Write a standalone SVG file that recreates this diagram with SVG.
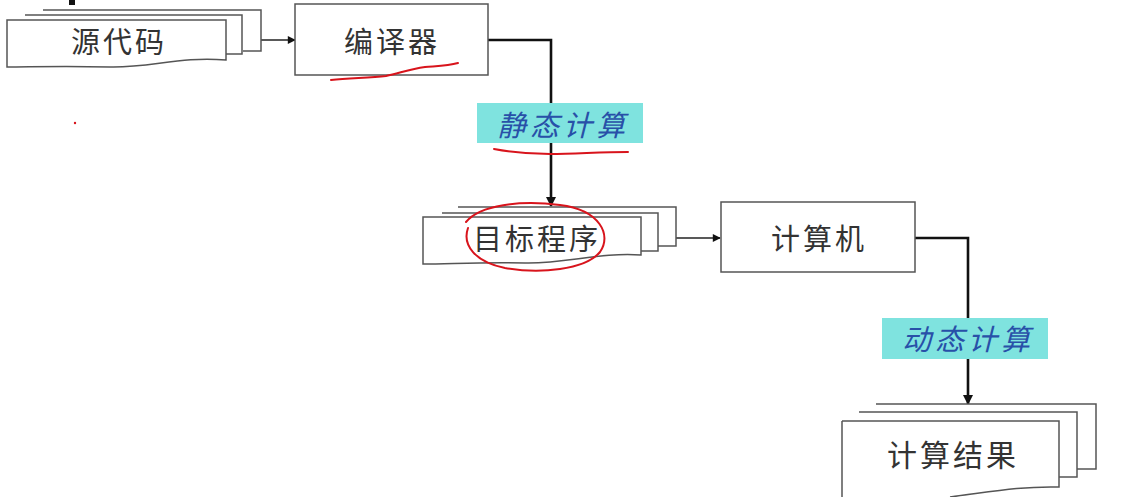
<svg xmlns="http://www.w3.org/2000/svg" width="1135" height="497" viewBox="0 0 1135 497">
<defs>
<style>
.box{fill:#fff;stroke:#555;stroke-width:1.5}
.doc{fill:#fff;stroke:#555;stroke-width:1.5}
.t{font-family:"Noto Sans CJK SC","Liberation Serif",serif;font-size:29px;letter-spacing:3px;fill:#333;text-anchor:middle}
.lbl{fill:#7fe3df}
.lt{font-family:"Noto Sans CJK SC",sans-serif;font-size:29px;letter-spacing:4px;font-style:italic;fill:#2850a8;text-anchor:middle}
.thin{fill:none;stroke:#222;stroke-width:1.3}
.thick{fill:none;stroke:#111;stroke-width:2.6}
.red{fill:none;stroke:#d8141c;stroke-width:2;stroke-linecap:round;stroke-linejoin:round}
</style>
<marker id="ah" viewBox="0 0 10 10" refX="9" refY="5" markerWidth="10" markerHeight="8" markerUnits="userSpaceOnUse" orient="auto">
<path d="M0,0 L10,5 L0,10 z" fill="#111"/>
</marker>
<marker id="ah2" viewBox="0 0 10 10" refX="9" refY="5" markerWidth="12" markerHeight="10" markerUnits="userSpaceOnUse" orient="auto">
<path d="M0,0 L10,5 L0,10 z" fill="#111"/>
</marker>
</defs>
<rect width="1135" height="497" fill="#fff"/>
<rect x="69" y="0" width="6" height="5" fill="#111"/>

<g id="connectors">
<path class="thin" d="M261,40 H295" marker-end="url(#ah)"/>
<path class="thick" d="M488,40 H551 V206" marker-end="url(#ah2)"/>
<path class="thin" d="M676,238 H720" marker-end="url(#ah)"/>
<path class="thick" d="M915,238 H968 V404" marker-end="url(#ah2)"/>
</g>

<g id="source">
<path class="doc" d="M43,10 H261 V51 H243"/>
<path class="doc" d="M25,15 H242 V54 H226"/>
<path class="doc" d="M7,20 H226 V60 C180,56 150,68 110,67 C60,66 30,67 7,67 Z"/>
<text class="t" x="119" y="53">源代码</text>
</g>

<g id="compiler">
<rect class="box" x="295" y="4" width="193" height="71"/>
<text class="t" x="392" y="53">编译器</text>
</g>

<g id="static-label">
<rect class="lbl" x="477" y="103" width="166" height="40"/>
<text class="lt" x="563" y="136">静态计算</text>
</g>

<g id="target">
<path class="doc" d="M458,207 H676 V246 H658"/>
<path class="doc" d="M442,213 H658 V251 H641"/>
<path class="doc" d="M423,217 H641 V255 C600,252 565,264 525,263 C480,262 450,264 423,264 Z"/>
<text class="t" x="537" y="250">目标程序</text>
</g>

<g id="computer">
<rect class="box" x="721" y="202" width="194" height="70"/>
<text class="t" x="819" y="250">计算机</text>
</g>

<g id="dynamic-label">
<rect class="lbl" x="882" y="318" width="166" height="41"/>
<text class="lt" x="968" y="350">动态计算</text>
</g>

<g id="result">
<path class="doc" d="M876,404 H1096 V469 H1077"/>
<path class="doc" d="M859,412 H1077 V477 H1059"/>
<path class="doc" d="M842,421 H1059 V487 C1020,486 990,492 950,497 M842,421 V500"/>
<text class="t" x="953" y="466" style="font-size:30px">计算结果</text>
</g>

<g id="annotations">
<path class="red" d="M331,80 C350,78 370,78 386,76 C400,73 410,69 425,67 C438,66 448,66 458,63"/>
<path class="red" d="M494,149 C510,152 530,154 550,154 C575,154 600,152 628,152"/>
<path class="red" d="M466,222 C480,205 520,200 560,205 C600,210 612,235 600,252 C585,270 540,274 505,268 C475,262 462,245 468,228"/>
<circle cx="75" cy="123" r="1.2" fill="#d8141c"/>
</g>
</svg>
